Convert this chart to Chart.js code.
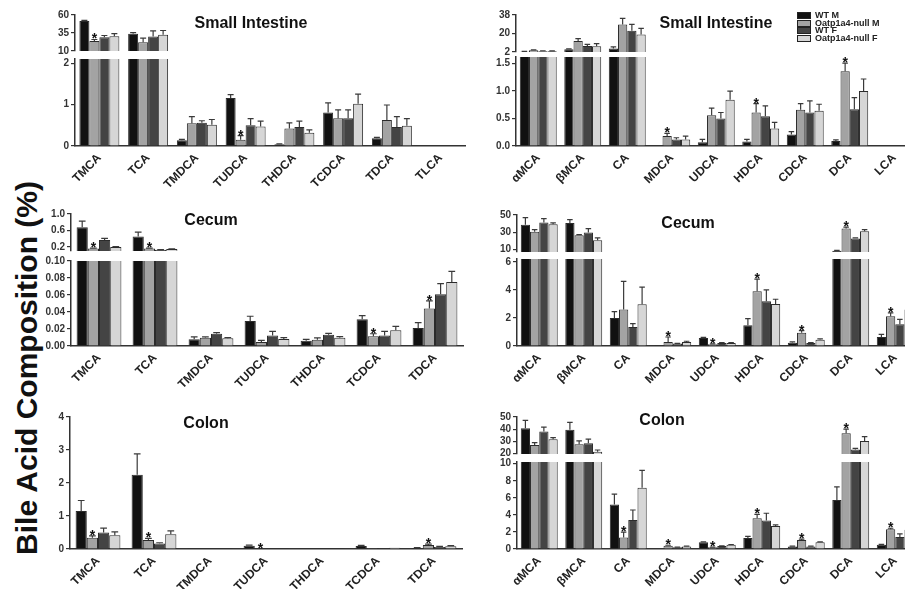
<!DOCTYPE html>
<html>
<head>
<meta charset="utf-8">
<script src="https://cdn.jsdelivr.net/npm/chart.js@4.4.0/dist/chart.umd.min.js"></script>
<style>
html, body { margin: 0; padding: 0; background: #fff; }
#fig { position: relative; width: 905px; height: 589px; overflow: hidden; font-family: "Liberation Sans", Arial, sans-serif; }
#fig canvas { position: absolute; }
.ttl { position: absolute; font-weight: bold; font-size: 16px; color: #111; white-space: nowrap; transform: translate(-50%, -50%); }
#ylab { position: absolute; left: 27px; top: 368px; font-weight: bold; font-size: 30px; color: #111; white-space: nowrap; transform: translate(-50%, -50%) rotate(-90deg); }
.sw { position: absolute; width: 12px; height: 5px; border: 1px solid #222; }
.lt { position: absolute; font-weight: bold; font-size: 9px; line-height: 10px; color: #222; white-space: nowrap; }
</style>
</head>
<body>
<div id="fig">
  <div id="ylab">Bile Acid Composition (%)</div>
</div>
<script>
// series and categories
const seriesNames = ['WT M', 'Oatp1a4-null M', 'WT F', 'Oatp1a4-null F'];
const barColors = ['#111111', '#a3a3a3', '#444444', '#d6d6d6'];

const taurine8 = ['TMCA', 'TCA', 'TMDCA', 'TUDCA', 'THDCA', 'TCDCA', 'TDCA', 'TLCA'];
const taurine7 = ['TMCA', 'TCA', 'TMDCA', 'TUDCA', 'THDCA', 'TCDCA', 'TDCA'];
const unconj = ['αMCA', 'βMCA', 'CA', 'MDCA', 'UDCA', 'HDCA', 'CDCA', 'DCA', 'LCA'];

// Small intestine - taurine conjugated (rows: WT M, null M, WT F, null F)
const siTaurMean = [
    [51.5, 34, 0.14, 1.16, 0.04, 0.81, 0.19, 0],
    [24, 22, 0.55, 0.15, 0.42, 0.67, 0.63, 0],
    [29, 30, 0.56, 0.5, 0.46, 0.67, 0.46, 0],
    [30.5, 32.5, 0.51, 0.47, 0.32, 1.02, 0.49, 0]
];
const siTaurSem = [
    [1, 1.5, 0.02, 0.08, 0.01, 0.23, 0.02, 0],
    [2, 6, 0.16, 0.1, 0.14, 0.2, 0.36, 0],
    [2.5, 8, 0.05, 0.16, 0.14, 0.2, 0.25, 0],
    [3.5, 6, 0.13, 0.13, 0.07, 0.23, 0.17, 0]
];
const siTaurStars = [[1, 0], [1, 3]];
const siTaurTicksHi = [10, 35, 60];
const siTaurTicksLo = [0, 1, 2];

// Small intestine - unconjugated
const siFreeMean = [
    [2.3, 4.6, 5.3, 0, 0.07, 0.08, 0.21, 0.09, 0],
    [3.6, 12.8, 28.8, 0.18, 0.56, 0.61, 0.66, 1.36, 0],
    [2.7, 7.9, 22.6, 0.12, 0.5, 0.54, 0.61, 0.67, 0],
    [2.7, 7.6, 19, 0.12, 0.84, 0.32, 0.64, 1.0, 0]
];
const siFreeSem = [
    [0.3, 0.5, 1.6, 0, 0.05, 0.04, 0.05, 0.02, 0],
    [0.5, 2.2, 5.9, 0.05, 0.13, 0.16, 0.11, 0.15, 0],
    [0.5, 1.6, 6.2, 0.03, 0.11, 0.19, 0.21, 0.21, 0],
    [0.4, 2.6, 5.9, 0.06, 0.16, 0.11, 0.12, 0.22, 0]
];
const siFreeStars = [[1, 3], [1, 5], [1, 7]];
const siFreeTicksHi = [2, 20, 38];
const siFreeTicksLo = [0, 0.5, 1, 1.5];

// Cecum - taurine conjugated
const ceTaurMean = [
    [0.675, 0.45, 0.0078, 0.0294, 0.0063, 0.0314, 0.0212],
    [0.16, 0.16, 0.0098, 0.0047, 0.0075, 0.0114, 0.044],
    [0.367, 0.13, 0.0145, 0.0125, 0.0133, 0.0125, 0.0608],
    [0.2, 0.15, 0.009, 0.0082, 0.0098, 0.0184, 0.0753]
];
const ceTaurSem = [
    [0.15, 0.11, 0.003, 0.0056, 0.0015, 0.0043, 0.0063],
    [0.01, 0.01, 0.001, 0.002, 0.002, 0.003, 0.009],
    [0.04, 0.005, 0.0012, 0.0048, 0.0015, 0.0048, 0.0125],
    [0.01, 0.005, 0.001, 0.0016, 0.0012, 0.0047, 0.0125]
];
const ceTaurStars = [[1, 0], [1, 1], [1, 5], [1, 6]];
const ceTaurTicksHi = [0.2, 0.6, 1.0];
const ceTaurTicksLo = [0, 0.02, 0.04, 0.06, 0.08, 0.10];

// Cecum - unconjugated
const ceFreeMean = [
    [38.8, 40.8, 2.0, 0.05, 0.57, 1.47, 0.24, 8.5, 0.64],
    [30.4, 26.5, 2.6, 0.29, 0.12, 3.9, 0.95, 34.2, 2.12],
    [41.2, 29.6, 1.36, 0.17, 0.21, 3.19, 0.21, 22.7, 1.55],
    [39.2, 20.8, 2.98, 0.29, 0.21, 3.0, 0.45, 31.2, 2.6]
];
const ceFreeSem = [
    [8.1, 3.8, 0.45, 0, 0.04, 0.48, 0.05, 0.3, 0.19],
    [2.6, 0.8, 2.0, 0.35, 0.03, 0.86, 0.15, 1.8, 0.24],
    [4.6, 4.6, 0.24, 0.02, 0.03, 0.81, 0.03, 0.8, 0.35],
    [1.6, 2.7, 1.22, 0.05, 0.03, 0.33, 0.06, 1.8, 0.4]
];
const ceFreeStars = [[1, 3], [1, 4], [1, 5], [1, 6], [1, 7], [1, 8]];
const ceFreeTicksHi = [10, 30, 50];
const ceFreeTicksLo = [0, 2, 4, 6];

// Colon - taurine conjugated
const coTaurMean = [
    [1.15, 2.25, 0.01, 0.1, 0.01, 0.09, 0.03],
    [0.34, 0.27, 0.01, 0.01, 0.01, 0.02, 0.12],
    [0.5, 0.17, 0.01, 0.01, 0.01, 0.02, 0.06],
    [0.42, 0.45, 0.01, 0.01, 0.01, 0.04, 0.08]
];
const coTaurSem = [
    [0.32, 0.63, 0, 0.02, 0, 0.02, 0.01],
    [0.06, 0.05, 0, 0, 0, 0, 0.03],
    [0.13, 0.02, 0, 0, 0, 0, 0.02],
    [0.1, 0.1, 0, 0, 0, 0, 0.02]
];
const coTaurStars = [[1, 0], [1, 1], [1, 3], [1, 6]];
const coTaurTicks = [0, 1, 2, 3, 4];

// Colon - unconjugated
const coFreeMean = [
    [40.8, 39.4, 5.23, 0.05, 0.78, 1.28, 0.3, 5.74, 0.5],
    [27, 27.5, 1.36, 0.39, 0.2, 3.6, 1.05, 36.7, 2.33],
    [38, 28.3, 3.41, 0.2, 0.35, 3.33, 0.3, 23.3, 1.4],
    [31.7, 21.4, 7.17, 0.3, 0.5, 2.71, 0.78, 30.3, 2.25]
];
const coFreeSem = [
    [6.4, 6.1, 1.2, 0, 0.05, 0.19, 0.03, 1.55, 0.05],
    [1.9, 2.8, 0.62, 0.05, 0.03, 0.47, 0.1, 3.3, 0.1],
    [3.7, 3.4, 1.16, 0.02, 0.03, 0.86, 0.03, 0.8, 0.38],
    [1.3, 1.4, 2.05, 0.03, 0.03, 0.12, 0.05, 3.6, 0.45]
];
const coFreeStars = [[1, 2], [1, 3], [1, 4], [1, 5], [1, 6], [1, 7], [1, 8]];
const coFreeTicksHi = [20, 30, 40, 50];
const coFreeTicksLo = [0, 2, 4, 6, 8, 10];

Chart.defaults.font.family = '"Liberation Sans", Arial, sans-serif';

const fig = document.getElementById('fig');
const YW = 40, PT = 8, XH = 52, PB = 8;

// error bars (clipped to plot) and significance stars
const markPlugin = {
    id: 'marks',
    afterDatasetsDraw(chart, args, opts) {
        const ctx = chart.ctx, ys = chart.scales.y, a = chart.chartArea;
        ctx.save();
        ctx.save();
        ctx.beginPath();
        ctx.rect(a.left, a.top - 1, a.right - a.left, a.bottom - a.top + 1);
        ctx.clip();
        ctx.strokeStyle = '#3a3a3a';
        ctx.lineWidth = 1.2;
        chart.data.datasets.forEach((ds, i) => {
            chart.getDatasetMeta(i).data.forEach((bar, j) => {
                const v = ds.data[j], e = ds.err[j];
                if (!e || v < ys.min || v > ys.max) return;
                const yb = ys.getPixelForValue(v), yt = ys.getPixelForValue(v + e);
                const hw = bar.width * 0.3;
                ctx.beginPath();
                ctx.moveTo(bar.x, yb); ctx.lineTo(bar.x, yt);
                ctx.moveTo(bar.x - hw, yt); ctx.lineTo(bar.x + hw, yt);
                ctx.stroke();
            });
        });
        ctx.restore();
        ctx.fillStyle = '#111';
        ctx.font = 'bold 14px "Liberation Sans", Arial, sans-serif';
        ctx.textAlign = 'center';
        ctx.textBaseline = 'alphabetic';
        (opts.stars || []).forEach(([i, j]) => {
            const ds = chart.data.datasets[i];
            const v = ds.data[j], e = ds.err[j];
            if (v < ys.min || v > ys.max) return;
            const bar = chart.getDatasetMeta(i).data[j];
            ctx.fillText('*', bar.x, ys.getPixelForValue(v + e) + 4);
        });
        ctx.restore();
    }
};

function buildPart(p, part) {
    const areaW = p.labels.length * p.pitch;
    const areaH = part.bottom - part.top;
    const cw = Math.ceil(YW + areaW + 14);
    const ch = PT + areaH + (part.showX ? XH : PB);
    const c = document.createElement('canvas');
    c.width = cw; c.height = ch;
    c.style.left = (p.axisX - YW) + 'px';
    c.style.top = (part.top - PT) + 'px';
    c.style.width = cw + 'px';
    c.style.height = ch + 'px';
    fig.appendChild(c);

    new Chart(c, {
        type: 'bar',
        data: {
            labels: p.labels,
            datasets: p.mean.map((row, i) => ({
                label: seriesNames[i],
                data: row,
                err: p.sem[i],
                backgroundColor: barColors[i],
                borderColor: '#2b2b2b',
                borderWidth: 1,
                categoryPercentage: p.catPct,
                barPercentage: 1,
                clip: 0
            }))
        },
        options: {
            responsive: false,
            animation: false,
            devicePixelRatio: 1,
            layout: { padding: { top: PT, right: cw - YW - areaW, bottom: part.showX ? 0 : PB, left: 0 } },
            plugins: {
                legend: { display: false },
                tooltip: { enabled: false },
                marks: { stars: p.stars }
            },
            scales: {
                x: {
                    display: part.showX,
                    grid: { display: false, drawTicks: false },
                    border: { display: true, color: '#333', width: 1.5 },
                    afterFit: s => { s.height = part.showX ? XH : 0; },
                    ticks: {
                        autoSkip: false, maxRotation: 45, minRotation: 45, padding: 5,
                        color: '#222', font: { size: 12, weight: 'bold' }
                    }
                },
                y: {
                    min: part.min,
                    max: part.max,
                    afterFit: s => { s.width = YW; },
                    afterBuildTicks: s => { s.ticks = part.ticks.map(v => ({ value: v })); },
                    grid: { drawOnChartArea: false, drawTicks: true, tickLength: 4, color: '#333', lineWidth: 1.2 },
                    border: { display: true, color: '#333', width: 1.5 },
                    ticks: {
                        autoSkip: false, padding: 2, color: '#333', font: { size: 10, weight: 'bold' },
                        callback: v => part.dec == null ? String(v) : Number(v).toFixed(part.dec)
                    }
                }
            }
        },
        plugins: [markPlugin]
    });
}

function title(text, x, y) {
    const d = document.createElement('div');
    d.className = 'ttl';
    d.textContent = text;
    d.style.left = x + 'px';
    d.style.top = y + 'px';
    fig.appendChild(d);
}

// Panel A: small intestine, conjugated
const pA = { labels: taurine8, mean: siTaurMean, sem: siTaurSem, stars: siTaurStars, axisX: 75, pitch: 48.75, catPct: 0.82 };
buildPart(pA, { top: 15, bottom: 51, min: 10, max: 60, ticks: siTaurTicksHi, showX: false });
buildPart(pA, { top: 59, bottom: 146, min: 0, max: 2.1, ticks: siTaurTicksLo, showX: true });
title('Small Intestine', 251, 23);

// Panel B: small intestine, unconjugated
const pB = { labels: unconj, mean: siFreeMean, sem: siFreeSem, stars: siFreeStars, axisX: 516, pitch: 44.5, catPct: 0.83 };
buildPart(pB, { top: 15, bottom: 52, min: 2, max: 38, ticks: siFreeTicksHi, showX: false });
buildPart(pB, { top: 57, bottom: 146, min: 0, max: 1.62, ticks: siFreeTicksLo, dec: 1, showX: true });
title('Small Intestine', 716, 23);

// Panel C: cecum, conjugated
const pC = { labels: taurine7, mean: ceTaurMean, sem: ceTaurSem, stars: ceTaurStars, axisX: 71, pitch: 56, catPct: 0.8 };
buildPart(pC, { top: 214, bottom: 251, min: 0.1, max: 1.0, ticks: ceTaurTicksHi, dec: 1, showX: false });
buildPart(pC, { top: 261, bottom: 346, min: 0, max: 0.1, ticks: ceTaurTicksLo, dec: 2, showX: true });
title('Cecum', 211, 220);

// Panel D: cecum, unconjugated
const pD = { labels: unconj, mean: ceFreeMean, sem: ceFreeSem, stars: ceFreeStars, axisX: 517, pitch: 44.5, catPct: 0.83 };
buildPart(pD, { top: 215, bottom: 252, min: 7, max: 50, ticks: ceFreeTicksHi, showX: false });
buildPart(pD, { top: 259, bottom: 346, min: 0, max: 6.2, ticks: ceFreeTicksLo, showX: true });
title('Cecum', 688, 223);

// Panel E: colon, conjugated (no break)
const pE = { labels: taurine7, mean: coTaurMean, sem: coTaurSem, stars: coTaurStars, axisX: 70, pitch: 56, catPct: 0.8 };
buildPart(pE, { top: 417, bottom: 549, min: 0, max: 4, ticks: coTaurTicks, showX: true });
title('Colon', 206, 423);

// Panel F: colon, unconjugated
const pF = { labels: unconj, mean: coFreeMean, sem: coFreeSem, stars: coFreeStars, axisX: 517, pitch: 44.5, catPct: 0.83 };
buildPart(pF, { top: 417, bottom: 454, min: 19.5, max: 50, ticks: coFreeTicksHi, showX: false });
buildPart(pF, { top: 462, bottom: 549, min: 0, max: 10.2, ticks: coFreeTicksLo, showX: true });
title('Colon', 662, 420);

// legend
seriesNames.forEach((name, i) => {
    const y = 15 + i * 7.5;
    const sw = document.createElement('div');
    sw.className = 'sw';
    sw.style.left = '797px';
    sw.style.top = (y - 3) + 'px';
    sw.style.background = barColors[i];
    fig.appendChild(sw);
    const t = document.createElement('div');
    t.className = 'lt';
    t.textContent = name;
    t.style.left = '815px';
    t.style.top = (y - 5) + 'px';
    fig.appendChild(t);
});
</script>
</body>
</html>
